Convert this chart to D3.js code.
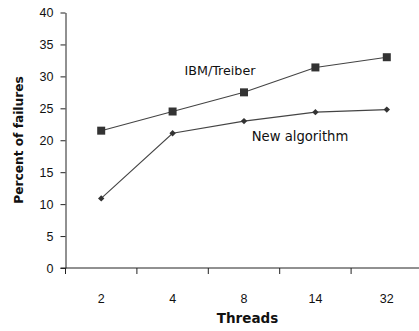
<!DOCTYPE html>
<html>
<head>
<meta charset="utf-8">
<script src="https://cdn.jsdelivr.net/npm/d3@7"></script>
<style>
  body { margin: 0; background: #fff; }
  svg { display: block; font-family: "DejaVu Sans", sans-serif; }
</style>
</head>
<body>
<div id="chart"></div>
<script>
const threads = ['2', '4', '8', '14', '32']
const ibmTreiber = [21.5, 24.5, 27.5, 31.4, 33.0]
const newAlgorithm = [10.9, 21.1, 23.0, 24.4, 24.8]
const yTicks = [0, 5, 10, 15, 20, 25, 30, 35, 40]

const width = 419, height = 331
const marginLeft = 65.5, marginTop = 12.5, plotH = 255.5, band = 71.4

const svg = d3.select('#chart').append('svg')
  .attr('width', width)
  .attr('height', height)

const xScale = d3.scaleBand().domain(threads).range([marginLeft, marginLeft + band * threads.length])
const yScale = d3.scaleLinear().domain([0, 40]).range([marginTop + plotH, marginTop])

// y axis
const yAxis = d3.axisLeft(yScale).tickValues(yTicks).tickSize(5).tickPadding(7).tickSizeOuter(0)
const yg = svg.append('g').attr('transform', `translate(${marginLeft},0)`).call(yAxis)
yg.select('.domain').attr('stroke', '#222')
yg.selectAll('.tick line').attr('stroke', '#222')
yg.selectAll('text').attr('font-size', '12.5px').attr('fill', '#111')

// x axis: labels centred in bands, ticks on band edges
const xAxis = d3.axisBottom(xScale).tickSize(0).tickPadding(26)
const xg = svg.append('g').attr('transform', `translate(0,${yScale(0)})`).call(xAxis)
xg.select('.domain').remove()
xg.selectAll('text').attr('font-size', '12.5px').attr('fill', '#111')

svg.append('line')
  .attr('x1', marginLeft - 5).attr('x2', width)
  .attr('y1', yScale(0)).attr('y2', yScale(0))
  .attr('stroke', '#222')

svg.selectAll('.xtick').data(threads).enter().append('line')
  .attr('class', 'xtick')
  .attr('x1', d => xScale(d)).attr('x2', d => xScale(d))
  .attr('y1', yScale(0)).attr('y2', yScale(0) + 6)
  .attr('stroke', '#222')

const line = d3.line()
  .x((d, i) => xScale(threads[i]) + xScale.bandwidth() / 2)
  .y(d => yScale(d))

// IBM/Treiber series
svg.append('path').datum(ibmTreiber)
  .attr('d', line).attr('fill', 'none').attr('stroke', '#444').attr('stroke-width', 1.1)
svg.selectAll('.sq').data(ibmTreiber).enter().append('rect')
  .attr('class', 'sq')
  .attr('x', (d, i) => xScale(threads[i]) + xScale.bandwidth() / 2 - 4)
  .attr('y', d => yScale(d) - 4)
  .attr('width', 8).attr('height', 8)
  .attr('fill', '#333')

// New algorithm series
svg.append('path').datum(newAlgorithm)
  .attr('d', line).attr('fill', 'none').attr('stroke', '#444').attr('stroke-width', 1.1)
svg.selectAll('.dm').data(newAlgorithm).enter().append('path')
  .attr('class', 'dm')
  .attr('d', d3.symbol().type(d3.symbolDiamond2).size(26))
  .attr('transform', (d, i) => `translate(${xScale(threads[i]) + xScale.bandwidth() / 2},${yScale(d)})`)
  .attr('fill', '#333')

// series labels
svg.append('text').attr('x', 220).attr('y', 71).attr('dy', '0.35em')
  .attr('text-anchor', 'middle').attr('font-size', '12.7px').attr('fill', '#111')
  .text('IBM/Treiber')
svg.append('text').attr('x', 300).attr('y', 136).attr('dy', '0.35em')
  .attr('text-anchor', 'middle').attr('font-size', '13.2px').attr('fill', '#111')
  .text('New algorithm')

// axis titles
svg.append('text').attr('x', 247.5).attr('y', 318.5).attr('dy', '0.35em')
  .attr('text-anchor', 'middle').attr('font-size', '13.5px').attr('font-weight', 'bold').attr('fill', '#111')
  .text('Threads')
svg.append('text')
  .attr('transform', 'translate(19,140) rotate(-90)')
  .attr('dy', '0.35em')
  .attr('text-anchor', 'middle').attr('font-size', '12.2px').attr('font-weight', 'bold').attr('fill', '#111')
  .text('Percent of failures')
</script>
</body>
</html>
